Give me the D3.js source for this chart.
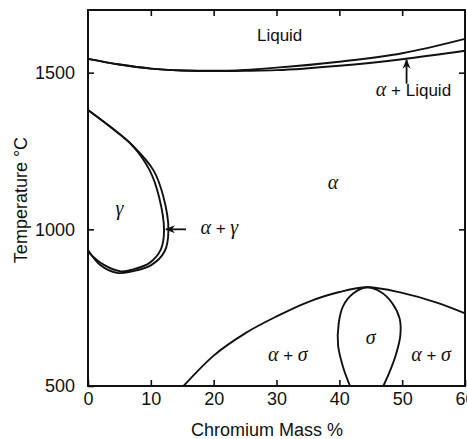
<!DOCTYPE html>
<html>
<head>
<meta charset="utf-8">
<script src="https://cdn.jsdelivr.net/npm/d3@7"></script>
<style>
  html, body { margin: 0; padding: 0; background: #fff; }
  svg { display: block; }
</style>
</head>
<body>
<svg id="chart" width="467" height="439"></svg>
<script>
// Fe–Cr phase diagram: composition (Cr mass %) vs temperature (°C)

const SANS = "'Liberation Sans', Arial, Helvetica, sans-serif";
const SERIF = "'Liberation Serif', 'Times New Roman', serif";

const xTicks = [0, 10, 20, 30, 40, 50, 60];
const yTicks = [500, 1000, 1500];

// Liquidus and solidus (Cr %, °C)
const liquidusCr = [0, 5, 10, 15, 20, 25, 30, 40, 50, 60];
const liquidusT  = [1544, 1526, 1513, 1507, 1506, 1509, 1516, 1535, 1562, 1608];
const solidusCr  = [0, 5, 10, 15, 20, 25, 30, 40, 50, 60];
const solidusT   = [1544, 1526, 1513, 1507, 1505, 1506, 1508, 1522, 1543, 1570];

// Gamma loop: outer (alpha / alpha+gamma) and inner (gamma / alpha+gamma) boundaries
const loopOuterCr = [0, 3.5, 7.0, 10.4, 12.0, 12.8, 12.2, 10.0, 7.0, 4.6, 2.0, 0];
const loopOuterT  = [1381, 1328, 1269, 1189, 1104, 998, 930, 885, 866, 861, 885, 934];
const loopInnerCr = [0, 3.5, 7.0, 9.8, 11.3, 12.1, 11.6, 9.8, 7.2, 5.2, 2.4, 0];
const loopInnerT  = [1381, 1328, 1269, 1189, 1104, 998, 936, 893, 872, 866, 888, 928];

// Alpha / alpha+sigma boundary
const sigmaSolvusCr = [15.2, 20, 25, 30, 35, 40, 44.4, 50, 55.5, 60];
const sigmaSolvusT  = [500, 597, 668, 722, 768, 800, 815, 797, 766, 732];

// Sigma phase field
const sigmaCr = [41.7, 40.6, 39.8, 39.9, 40.6, 42.2, 44.4, 46.6, 48.4, 49.6, 49.7, 49.0, 48.0, 47.0];
const sigmaT  = [500, 560, 630, 700, 755, 795, 815, 800, 765, 715, 660, 600, 545, 500];

// Phase labels
const phaseLabels = [
  { parts: [["sans", "Liquid"]], cr: 30.5, t: 1600 },
  { parts: [["greek", "α"]], cr: 39.0, t: 1130 },
  { parts: [["greek", "γ"]], cr: 5.0, t: 1045 },
  { parts: [["greek", "σ"]], cr: 45.0, t: 635 },
  { parts: [["greek", "α"], ["sans", " + "], ["greek", "σ"]], cr: 31.8, t: 580 },
  { parts: [["greek", "α"], ["sans", " + "], ["greek", "σ"]], cr: 54.6, t: 580 },
  { parts: [["greek", "α"], ["sans", " + Liquid"]], cr: 51.8, t: 1425 },
  { parts: [["greek", "α"], ["sans", " + "], ["greek", "γ"]], cr: 20.9, t: 985 }
];

const svg = d3.select("#chart");
const x = d3.scaleLinear().domain([0, 60]).range([88, 465]);
const y = d3.scaleLinear().domain([500, 1700]).range([386, 10]);

const zip = (a, b) => a.map((v, i) => [v, b[i]]);
const smoothLoop = d3.line().x(d => x(d[0])).y(d => y(d[1])).curve(d3.curveCatmullRom.alpha(0.5));
const smoothFn = d3.line().x(d => x(d[0])).y(d => y(d[1])).curve(d3.curveMonotoneX);

const curves = [
  { pts: zip(liquidusCr, liquidusT), gen: smoothFn },
  { pts: zip(solidusCr, solidusT), gen: smoothFn },
  { pts: zip(sigmaSolvusCr, sigmaSolvusT), gen: smoothFn },
  { pts: zip(loopOuterCr, loopOuterT), gen: smoothLoop },
  { pts: zip(loopInnerCr, loopInnerT), gen: smoothLoop },
  { pts: zip(sigmaCr, sigmaT), gen: smoothLoop }
];

svg.append("g").selectAll("path").data(curves).join("path")
  .attr("d", d => d.gen(d.pts))
  .attr("fill", "none")
  .attr("stroke", "#111")
  .attr("stroke-width", 1.9);

// Frame
svg.append("rect")
  .attr("x", x(0)).attr("y", y(1700))
  .attr("width", x(60) - x(0)).attr("height", y(500) - y(1700))
  .attr("fill", "none").attr("stroke", "#111").attr("stroke-width", 2);

// Axes with inward ticks
const fmt = d3.format("d");
const axB = d3.axisBottom(x).tickValues(xTicks).tickSizeInner(-6).tickSizeOuter(0).tickPadding(6).tickFormat(fmt);
const axT = d3.axisTop(x).tickValues(xTicks.slice(1, -1)).tickSizeInner(-6).tickSizeOuter(0).tickFormat("");
const axL = d3.axisLeft(y).tickValues(yTicks).tickSizeInner(-6).tickSizeOuter(0).tickPadding(13).tickFormat(fmt);
const axR = d3.axisRight(y).tickValues([1000, 1500]).tickSizeInner(-6).tickSizeOuter(0).tickFormat("");

function styleAxis(g) {
  g.select(".domain").remove();
  g.selectAll(".tick line").attr("stroke", "#111").attr("stroke-width", 1.6);
  g.selectAll(".tick text")
    .attr("font-family", SANS).attr("font-size", 18).attr("fill", "#111");
}
svg.append("g").attr("transform", `translate(0,${y(500)})`).call(axB).call(styleAxis);
svg.append("g").attr("transform", `translate(0,${y(1700)})`).call(axT).call(styleAxis);
svg.append("g").attr("transform", `translate(${x(0)},0)`).call(axL).call(styleAxis);
svg.append("g").attr("transform", `translate(${x(60)},0)`).call(axR).call(styleAxis);

// Axis titles
svg.append("text")
  .attr("x", 267).attr("y", 436)
  .attr("text-anchor", "middle")
  .attr("font-family", SANS).attr("font-size", 18).attr("fill", "#111")
  .text("Chromium Mass %");
svg.append("text")
  .attr("transform", `translate(27,200) rotate(-90)`)
  .attr("text-anchor", "middle")
  .attr("font-family", SANS).attr("font-size", 18).attr("fill", "#111")
  .text("Temperature °C");

// Phase field labels
const lab = svg.append("g").selectAll("text").data(phaseLabels).join("text")
  .attr("x", d => x(d.cr)).attr("y", d => y(d.t))
  .attr("text-anchor", "middle").attr("fill", "#111");
lab.selectAll("tspan").data(d => d.parts).join("tspan")
  .attr("font-family", d => d[0] === "greek" ? SERIF : SANS)
  .attr("font-style", d => d[0] === "greek" ? "italic" : "normal")
  .attr("font-size", d => d[0] === "greek" ? 20 : 17)
  .attr("xml:space", "preserve")
  .text(d => d[1]);

// Annotation arrows
const defs = svg.append("defs");
defs.append("marker").attr("id", "head")
  .attr("viewBox", "0 0 10 10").attr("refX", 9).attr("refY", 5)
  .attr("markerWidth", 10).attr("markerHeight", 10).attr("markerUnits", "userSpaceOnUse")
  .attr("orient", "auto")
  .append("path").attr("d", "M0,1 L10,5 L0,9 L3,5 Z").attr("fill", "#111");

const arrows = [
  { from: [50.7, 1465], to: [50.7, 1541] },
  { from: [15.6, 1000], to: [12.4, 1000] }
];
svg.append("g").selectAll("line").data(arrows).join("line")
  .attr("x1", d => x(d.from[0])).attr("y1", d => y(d.from[1]))
  .attr("x2", d => x(d.to[0])).attr("y2", d => y(d.to[1]))
  .attr("stroke", "#111").attr("stroke-width", 1.8)
  .attr("marker-end", "url(#head)");
</script>
</body>
</html>
